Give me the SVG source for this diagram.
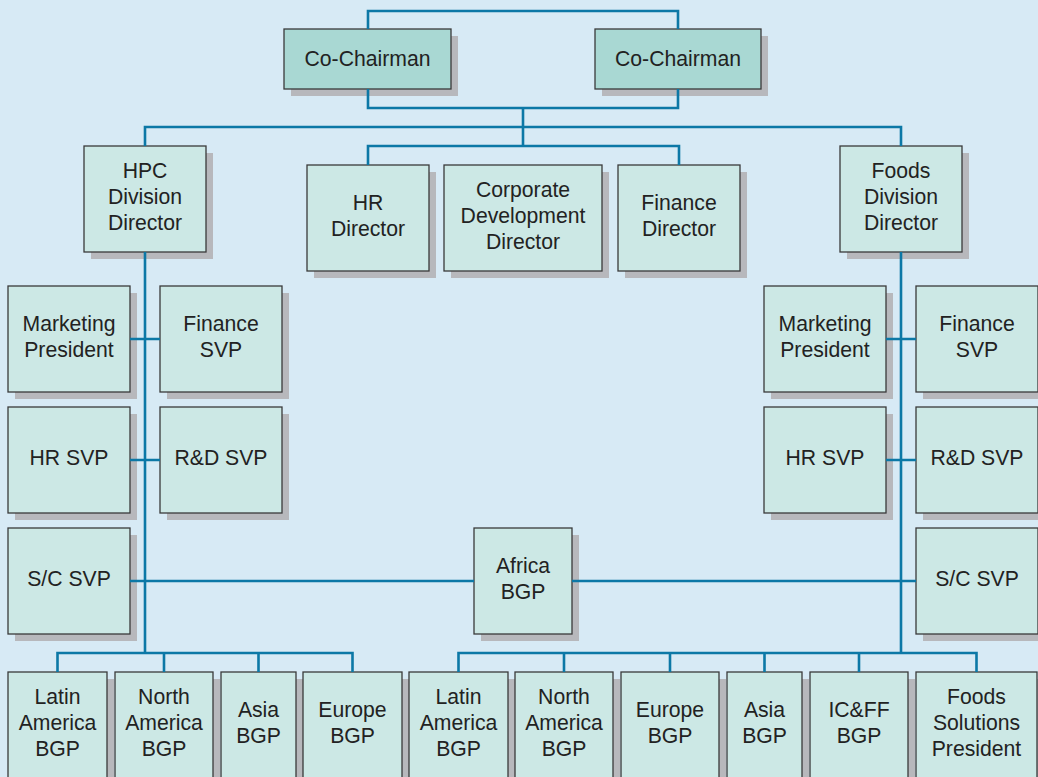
<svg xmlns="http://www.w3.org/2000/svg" width="1038" height="777" viewBox="0 0 1038 777">
  <style>
    .bg { fill: #d7eaf5; }
    .sh { fill: #b7b8bc; }
    .box { fill: #cce8e5; stroke: #3a3a3a; stroke-width: 1.3; }
    .top { fill: #a9d8d3; }
    .t { font-family: "Liberation Sans", Arial, sans-serif; font-size: 21.2px; fill: #222; text-anchor: middle; }
    .ln { fill: none; stroke: #0c78a6; stroke-width: 2.6; }
  </style>
  <defs>
    <!-- standard 122x106 box with drop shadow -->
    <g id="std">
      <rect class="sh" x="7" y="7" width="122" height="106"/>
      <rect class="box" x="0" y="0" width="122" height="106"/>
    </g>
  </defs>
  <rect class="bg" x="0" y="0" width="1038" height="777"/>

  <!-- executive level -->
  <g id="cochair-left">
    <rect class="sh" x="291" y="36" width="167" height="60"/>
    <rect class="box top" x="284" y="29" width="167" height="60"/>
    <text class="t" x="367.5" y="65.5">Co-Chairman</text>
  </g>
  <g id="cochair-right">
    <rect class="sh" x="602" y="36" width="166" height="60"/>
    <rect class="box top" x="595" y="29" width="166" height="60"/>
    <text class="t" x="678" y="65.5">Co-Chairman</text>
  </g>

  <!-- division and corporate directors -->
  <g id="hpc-director">
    <use href="#std" x="84" y="146"/>
    <text class="t" x="145" y="178">HPC</text>
    <text class="t" x="145" y="204">Division</text>
    <text class="t" x="145" y="230">Director</text>
  </g>
  <g id="hr-director">
    <use href="#std" x="307" y="165"/>
    <text class="t" x="368" y="210">HR</text>
    <text class="t" x="368" y="236">Director</text>
  </g>
  <g id="corpdev-director">
    <rect class="sh" x="451" y="172" width="158" height="106"/>
    <rect class="box" x="444" y="165" width="158" height="106"/>
    <text class="t" x="523" y="197">Corporate</text>
    <text class="t" x="523" y="223">Development</text>
    <text class="t" x="523" y="249">Director</text>
  </g>
  <g id="finance-director">
    <use href="#std" x="618" y="165"/>
    <text class="t" x="679" y="210">Finance</text>
    <text class="t" x="679" y="236">Director</text>
  </g>
  <g id="foods-director">
    <use href="#std" x="840" y="146"/>
    <text class="t" x="901" y="178">Foods</text>
    <text class="t" x="901" y="204">Division</text>
    <text class="t" x="901" y="230">Director</text>
  </g>

  <!-- HPC functional heads -->
  <g id="hpc-marketing">
    <use href="#std" x="8" y="286"/>
    <text class="t" x="69" y="331">Marketing</text>
    <text class="t" x="69" y="357">President</text>
  </g>
  <g id="hpc-finance">
    <use href="#std" x="160" y="286"/>
    <text class="t" x="221" y="331">Finance</text>
    <text class="t" x="221" y="357">SVP</text>
  </g>
  <g id="hpc-hr">
    <use href="#std" x="8" y="407"/>
    <text class="t" x="69" y="465">HR SVP</text>
  </g>
  <g id="hpc-rd">
    <use href="#std" x="160" y="407"/>
    <text class="t" x="221" y="465">R&amp;D SVP</text>
  </g>
  <g id="hpc-sc">
    <use href="#std" x="8" y="528"/>
    <text class="t" x="69" y="586">S/C SVP</text>
  </g>

  <g id="africa-bgp">
    <rect class="sh" x="481" y="535" width="98" height="106"/>
    <rect class="box" x="474" y="528" width="98" height="106"/>
    <text class="t" x="523" y="573">Africa</text>
    <text class="t" x="523" y="599">BGP</text>
  </g>

  <!-- Foods functional heads -->
  <g id="foods-marketing">
    <use href="#std" x="764" y="286"/>
    <text class="t" x="825" y="331">Marketing</text>
    <text class="t" x="825" y="357">President</text>
  </g>
  <g id="foods-finance">
    <use href="#std" x="916" y="286"/>
    <text class="t" x="977" y="331">Finance</text>
    <text class="t" x="977" y="357">SVP</text>
  </g>
  <g id="foods-hr">
    <use href="#std" x="764" y="407"/>
    <text class="t" x="825" y="465">HR SVP</text>
  </g>
  <g id="foods-rd">
    <use href="#std" x="916" y="407"/>
    <text class="t" x="977" y="465">R&amp;D SVP</text>
  </g>
  <g id="foods-sc">
    <use href="#std" x="916" y="528"/>
    <text class="t" x="977" y="586">S/C SVP</text>
  </g>

  <!-- HPC business groups -->
  <g id="hpc-latam">
    <rect class="sh" x="15" y="679" width="99" height="106"/>
    <rect class="box" x="8" y="672" width="99" height="106"/>
    <text class="t" x="57.5" y="704">Latin</text>
    <text class="t" x="57.5" y="730">America</text>
    <text class="t" x="57.5" y="756">BGP</text>
  </g>
  <g id="hpc-namerica">
    <rect class="sh" x="122" y="679" width="98" height="106"/>
    <rect class="box" x="115" y="672" width="98" height="106"/>
    <text class="t" x="164" y="704">North</text>
    <text class="t" x="164" y="730">America</text>
    <text class="t" x="164" y="756">BGP</text>
  </g>
  <g id="hpc-asia">
    <rect class="sh" x="228" y="679" width="75" height="106"/>
    <rect class="box" x="221" y="672" width="75" height="106"/>
    <text class="t" x="258.5" y="717">Asia</text>
    <text class="t" x="258.5" y="743">BGP</text>
  </g>
  <g id="hpc-europe">
    <rect class="sh" x="310" y="679" width="99" height="106"/>
    <rect class="box" x="303" y="672" width="99" height="106"/>
    <text class="t" x="352.5" y="717">Europe</text>
    <text class="t" x="352.5" y="743">BGP</text>
  </g>

  <!-- Foods business groups -->
  <g id="foods-latam">
    <rect class="sh" x="416" y="679" width="99" height="106"/>
    <rect class="box" x="409" y="672" width="99" height="106"/>
    <text class="t" x="458.5" y="704">Latin</text>
    <text class="t" x="458.5" y="730">America</text>
    <text class="t" x="458.5" y="756">BGP</text>
  </g>
  <g id="foods-namerica">
    <rect class="sh" x="522" y="679" width="98" height="106"/>
    <rect class="box" x="515" y="672" width="98" height="106"/>
    <text class="t" x="564" y="704">North</text>
    <text class="t" x="564" y="730">America</text>
    <text class="t" x="564" y="756">BGP</text>
  </g>
  <g id="foods-europe">
    <rect class="sh" x="628" y="679" width="98" height="106"/>
    <rect class="box" x="621" y="672" width="98" height="106"/>
    <text class="t" x="670" y="717">Europe</text>
    <text class="t" x="670" y="743">BGP</text>
  </g>
  <g id="foods-asia">
    <rect class="sh" x="734" y="679" width="75" height="106"/>
    <rect class="box" x="727" y="672" width="75" height="106"/>
    <text class="t" x="764.5" y="717">Asia</text>
    <text class="t" x="764.5" y="743">BGP</text>
  </g>
  <g id="foods-icff">
    <rect class="sh" x="817" y="679" width="98" height="106"/>
    <rect class="box" x="810" y="672" width="98" height="106"/>
    <text class="t" x="859" y="717">IC&amp;FF</text>
    <text class="t" x="859" y="743">BGP</text>
  </g>
  <g id="foods-solutions">
    <rect class="sh" x="923" y="679" width="121" height="106"/>
    <rect class="box" x="916" y="672" width="121" height="106"/>
    <text class="t" x="976.5" y="704">Foods</text>
    <text class="t" x="976.5" y="730">Solutions</text>
    <text class="t" x="976.5" y="756">President</text>
  </g>

  <!-- reporting lines -->
  <g id="connectors">
    <path class="ln" d="M368 29 V11 H678 V29"/>
    <path class="ln" d="M368 89 V108 H678 V89"/>
    <path class="ln" d="M523 108 V146"/>
    <path class="ln" d="M145 146 V127 H901 V146"/>
    <path class="ln" d="M368 165 V146 H679 V165"/>
    <path class="ln" d="M145 252 V653"/>
    <path class="ln" d="M901 252 V653"/>
    <path class="ln" d="M130 339 H160 M130 460 H160 M130 581 H474"/>
    <path class="ln" d="M886 339 H916 M886 460 H916 M572 581 H916"/>
    <path class="ln" d="M57.5 672 V653 H352.5 V672 M164 653 V672 M258.5 653 V672"/>
    <path class="ln" d="M458.5 672 V653 H976.5 V672 M564 653 V672 M670 653 V672 M764.5 653 V672 M859 653 V672"/>
  </g>
</svg>
